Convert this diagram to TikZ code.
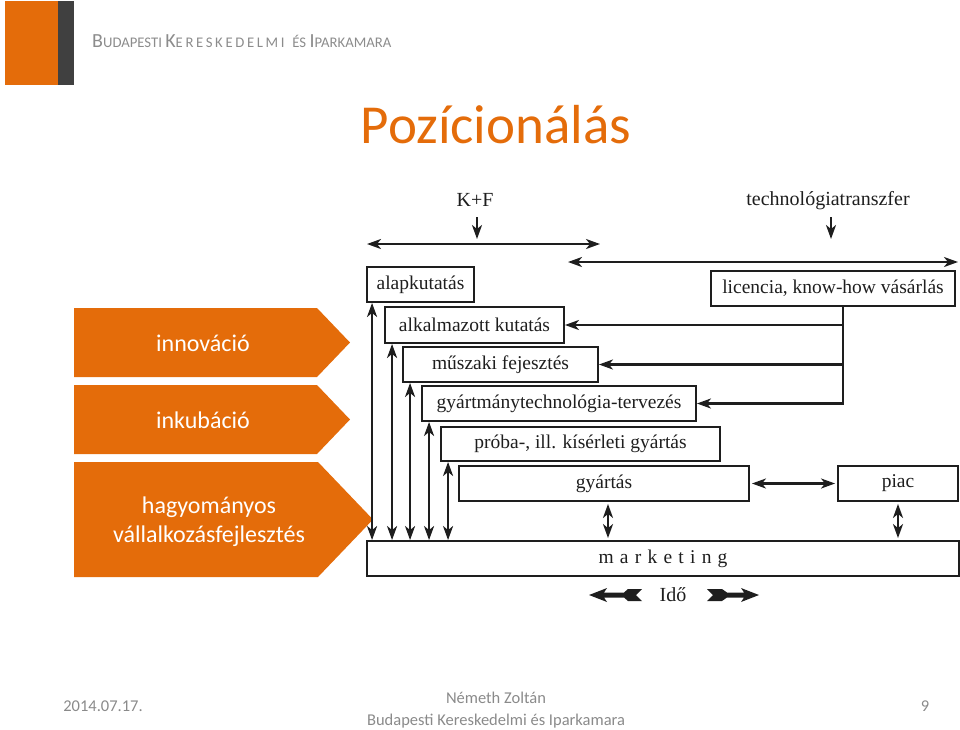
\documentclass[tikz,border=0pt]{standalone}
\usepackage{fontspec}
\setmainfont{Carlito}
\newfontfamily\dfont{Liberation Serif}
\usetikzlibrary{arrows.meta}
\definecolor{orng}{HTML}{E46C0A}
\definecolor{dgray}{HTML}{404040}
\definecolor{ink}{HTML}{1E1E1E}
\definecolor{hgray}{HTML}{8C8C8C}
\definecolor{fgray}{HTML}{8A8A8A}
\tikzset{
  dbox/.style={draw=ink, line width=1.9pt, inner sep=0pt, text=ink,
    font=\dfont\fontsize{19.5}{20}\selectfont},
  conn/.style={draw=ink, line width=2.2pt},
  tip/.style={-{Stealth[length=14pt,width=10pt,inset=4pt]}},
  bitip/.style={{Stealth[length=14pt,width=10pt,inset=4pt]}-{Stealth[length=14pt,width=10pt,inset=4pt]}},
  dlabel/.style={text=ink, inner sep=0pt, font=\dfont\fontsize{20}{20}\selectfont},
  chev/.style={fill=orng},
  chevtext/.style={text=white, inner sep=0pt, anchor=base, font=\fontsize{24}{24}\selectfont},
  foot/.style={text=fgray, inner sep=0pt, anchor=base, font=\fontsize{16.5}{16.5}\selectfont},
}
\begin{document}
\begin{tikzpicture}[x=1pt,y=-1pt]
\useasboundingbox (0,0) rectangle (960,729);
% logo
\fill[orng] (5,1) rectangle (58,85);
\fill[dgray] (58,1) rectangle (74,85);
\node[anchor=base west, inner sep=0pt, text=hgray] (hdr) at (92,47)
 {\fontsize{20}{20}\selectfont B\fontsize{14.7}{14.7}\selectfont UDAPESTI
  \fontsize{20}{20}\selectfont K{\addfontfeature{LetterSpace=18}\fontsize{14.7}{14.7}\selectfont ERESKEDELMI}
  \fontsize{14.7}{14.7}\selectfont \ ÉS \fontsize{20}{20}\selectfont I\fontsize{14.7}{14.7}\selectfont PARKAMARA};
% title
\node[anchor=base, inner sep=0pt, text=orng, font=\fontsize{55}{55}\selectfont] (title) at (496,143) {Pozícionálás};
% chevrons
\fill[chev] (74,308) -- (317,308) -- (350,342.5) -- (317,377) -- (74,377) -- cycle;
\fill[chev] (74,385) -- (317,385) -- (350,419.5) -- (317,454) -- (74,454) -- cycle;
\fill[chev] (74,462) -- (318,462) -- (373,519.5) -- (318,577) -- (74,577) -- cycle;
\node[chevtext] (inno) at (203,351) {innováció};
\node[chevtext] (inku) at (203,428) {inkubáció};
\node[chevtext] (hagy) at (209,513) {hagyományos};
\node[chevtext] (vall) at (209,542) {vállalkozásfejlesztés};
% diagram labels
\node[dlabel] (kf) at (475,200) {K+F};
\node[dlabel] (tt) at (828,201) {technológiatranszfer};
\coordinate (kfa) at (477,239);
\coordinate (tta) at (831,239);
\draw[conn,tip] (kfa |- 0,217) -- (kfa);
\draw[conn,tip] (tta |- 0,217) -- (tta);
\coordinate (kfL) at (367,244);
\coordinate (kfR) at (600,244);
\draw[conn,bitip] (kfL) -- (kfR);
\coordinate (ttL) at (568,262);
\coordinate (ttR) at (958,262);
\draw[conn,bitip] (ttL) -- (ttR);
% boxes
\node[dbox, minimum width=107pt, minimum height=35pt] (ap) at (420.5,284.5) {alapkutatás};
\node[dbox, minimum width=244pt, minimum height=35pt] (lic) at (833,288.5) {licencia, know-how vásárlás};
\node[dbox, minimum width=179pt, minimum height=36pt] (ak) at (474.5,325) {alkalmazott kutatás};
\node[dbox, minimum width=195pt, minimum height=35pt] (mf) at (500.5,364.5) {műszaki fejesztés};
\node[dbox, minimum width=274pt, minimum height=35pt] (gt) at (559,403.5) {gyártmánytechnológia-tervezés};
\node[dbox, minimum width=279pt, minimum height=34pt] (pr) at (580.5,444) {próba-, ill. kísérleti gyártás};
\node[dbox, minimum width=290pt, minimum height=35pt] (gy) at (604,483.5) {gyártás};
\node[dbox, minimum width=120pt, minimum height=35pt] (pi) at (898,483.5) {piac};
\node[dbox, minimum width=592pt, minimum height=35pt] (mk) at (663,558.5)
  {\addfontfeature{LetterSpace=32}marketing};
% licence feed lines
\coordinate (v0) at ([xshift=10pt]lic.south);
\draw[conn,tip] (v0) |- (gt.east);
\draw[conn,tip] (v0 |- ak.east) -- (ak.east);
\draw[conn,tip] (v0 |- mf.east) -- (mf.east);
% left vertical arrows
\draw[conn,bitip] ([xshift=6pt]ap.south west) -- ([xshift=6pt]ap.south west |- mk.north);
\draw[conn,bitip] ([xshift=8pt]ak.south west) -- ([xshift=8pt]ak.south west |- mk.north);
\draw[conn,bitip] ([xshift=8pt]mf.south west) -- ([xshift=8pt]mf.south west |- mk.north);
\draw[conn,bitip] ([xshift=8pt]gt.south west) -- ([xshift=8pt]gt.south west |- mk.north);
\draw[conn,bitip] ([xshift=8pt]pr.south west) -- ([xshift=8pt]pr.south west |- mk.north);
% production / market links
\draw[conn,bitip,shorten <=2pt,shorten >=2pt] ([xshift=4pt]gy.south) -- ([xshift=4pt]gy.south |- mk.north);
\draw[conn,bitip,shorten <=2pt,shorten >=2pt] (pi.south) -- (pi.south |- mk.north);
\draw[conn,bitip,shorten <=2pt,shorten >=2pt] (gy.east) -- (pi.west);
% time
\node[dlabel, anchor=base] (ido) at (673,601) {Idő};
\fill[ink] (589,595) -- (607,588) -- (604,592.5) -- (624,592.5) -- (628,589) -- (642,589) -- (636,595)
  -- (642,601) -- (628,601) -- (624,597.5) -- (604,597.5) -- (607,602) -- cycle;
\fill[ink] (759,595) -- (741,588) -- (744,592.5) -- (727,592.5) -- (722,589) -- (707,589) -- (713,595)
  -- (707,601) -- (722,601) -- (727,597.5) -- (744,597.5) -- (741,602) -- cycle;
% footer
\node[foot] (date) at (103,711) {2014.07.17.};
\node[foot] (auth) at (496,703) {Németh Zoltán};
\node[foot] (org) at (496,725) {Budapesti Kereskedelmi és Iparkamara};
\node[foot] (page) at (925,711) {9};
\end{tikzpicture}
\end{document}
